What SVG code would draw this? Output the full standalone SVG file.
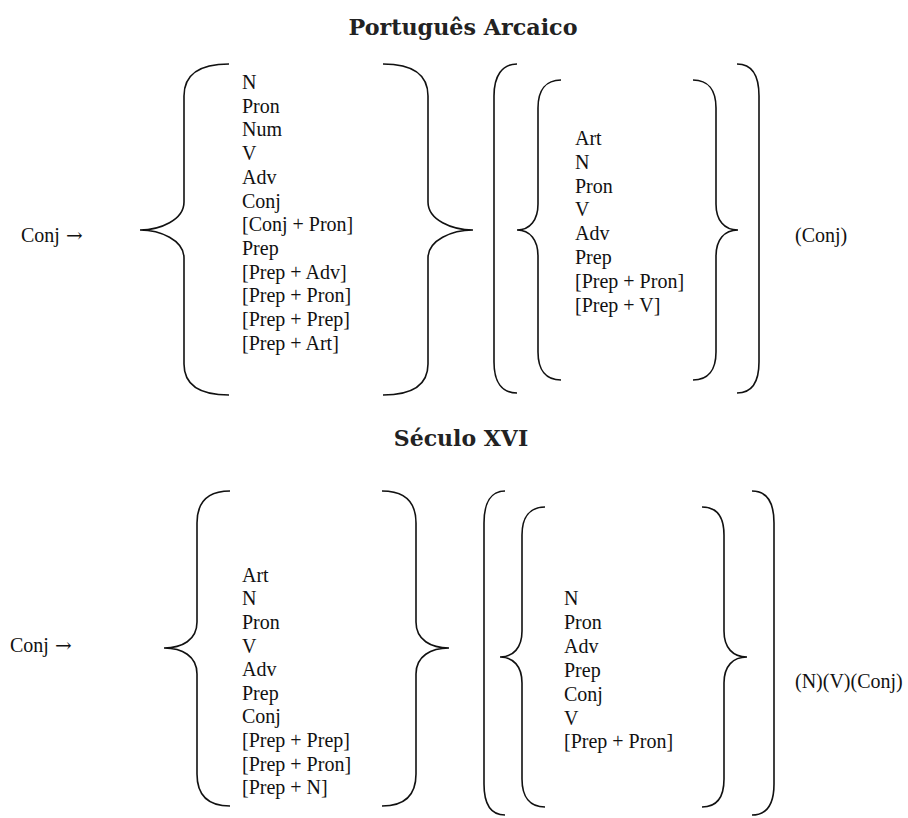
<svg xmlns="http://www.w3.org/2000/svg" width="908" height="818" viewBox="0 0 908 818">
<style>
.t{font-family:"Liberation Serif","Times New Roman",serif;font-size:20px;fill:#111}
.ar{font-family:"DejaVu Serif","Liberation Serif",serif;font-size:20px}
.h{font-family:"DejaVu Serif","Liberation Serif",serif;font-weight:bold;font-size:22px;fill:#222;text-anchor:middle}
.b{fill:none;stroke:#111;stroke-width:1.6}
</style>
<rect width="908" height="818" fill="#fff"/>
<text class="h" x="463" y="35" textLength="229" lengthAdjust="spacingAndGlyphs">Português Arcaico</text>
<text class="h" x="461" y="446">Século XVI</text>

<g id="top-lhs"><text class="t" x="21" y="242">Conj <tspan class="ar" x="66">→</tspan></text></g>

<g id="top-list1">
<text class="t" x="242" y="89">N</text>
<text class="t" x="242" y="112.7">Pron</text>
<text class="t" x="242" y="136.4">Num</text>
<text class="t" x="242" y="160.1">V</text>
<text class="t" x="242" y="183.8">Adv</text>
<text class="t" x="242" y="207.5">Conj</text>
<text class="t" x="242" y="231.2">[Conj + Pron]</text>
<text class="t" x="242" y="254.9">Prep</text>
<text class="t" x="242" y="278.6">[Prep + Adv]</text>
<text class="t" x="242" y="302.3">[Prep + Pron]</text>
<text class="t" x="242" y="326">[Prep + Prep]</text>
<text class="t" x="242" y="349.7">[Prep + Art]</text>
</g>

<g id="top-list2">
<text class="t" x="575" y="145">Art</text>
<text class="t" x="575" y="168.8">N</text>
<text class="t" x="575" y="192.6">Pron</text>
<text class="t" x="575" y="216.4">V</text>
<text class="t" x="575" y="240.2">Adv</text>
<text class="t" x="575" y="264">Prep</text>
<text class="t" x="575" y="287.8">[Prep + Pron]</text>
<text class="t" x="575" y="311.6">[Prep + V]</text>
</g>

<g id="top-rhs"><text class="t" x="795" y="242">(Conj)</text></g>

<g id="bot-lhs"><text class="t" x="10" y="652">Conj <tspan class="ar" x="55">→</tspan></text></g>

<g id="bot-list1">
<text class="t" x="242" y="581.7">Art</text>
<text class="t" x="242" y="605.3">N</text>
<text class="t" x="242" y="628.9">Pron</text>
<text class="t" x="242" y="652.5">V</text>
<text class="t" x="242" y="676.1">Adv</text>
<text class="t" x="242" y="699.7">Prep</text>
<text class="t" x="242" y="723.3">Conj</text>
<text class="t" x="242" y="746.9">[Prep + Prep]</text>
<text class="t" x="242" y="770.5">[Prep + Pron]</text>
<text class="t" x="242" y="794.1">[Prep + N]</text>
</g>

<g id="bot-list2">
<text class="t" x="564" y="605">N</text>
<text class="t" x="564" y="628.9">Pron</text>
<text class="t" x="564" y="652.8">Adv</text>
<text class="t" x="564" y="676.7">Prep</text>
<text class="t" x="564" y="700.6">Conj</text>
<text class="t" x="564" y="724.5">V</text>
<text class="t" x="564" y="748.4">[Prep + Pron]</text>
</g>

<g id="bot-rhs"><text class="t" x="795" y="688">(N)(V)(Conj)</text></g>

<g id="brackets">
<path class="b" d="M229,64 C200,64 184,74 184,96 L184,202 C184,220 160,230 140,230 C160,230 184,240 184,258 L184,364 C184,386 200,395 229,395"/>
<path class="b" d="M383,64 C412,64 428,74 428,96 L428,202 C428,220 452,230 473,230 C452,230 428,240 428,258 L428,364 C428,386 412,395 383,395"/>
<path class="b" d="M517,64 C502,64 494,76 494,96 L494,362 C494,382 502,393 517,393"/>
<path class="b" d="M737,64 C752,64 759,76 759,96 L759,362 C759,382 752,393 737,393"/>
<path class="b" d="M561,80 C546,80 538,90 538,108 L538,204 C538,220 530,230 517,230 C530,230 538,240 538,256 L538,352 C538,370 546,380 561,380"/>
<path class="b" d="M693,80 C708,80 716,90 716,108 L716,204 C716,220 724,230 738,230 C724,230 716,240 716,256 L716,352 C716,370 708,380 693,380"/>

<path class="b" d="M230,491 C208,491 197,501 197,523 L197,622 C197,640 182,648 164,648 C182,648 197,656 197,674 L197,774 C197,796 208,806 230,806"/>
<path class="b" d="M382,491 C404,491 416,501 416,523 L416,622 C416,640 431,648 449,648 C431,648 416,656 416,674 L416,774 C416,796 404,806 382,806"/>
<path class="b" d="M505,491 C491,491 484,503 484,523 L484,784 C484,804 491,815 505,815"/>
<path class="b" d="M752,491 C767,491 774,503 774,523 L774,784 C774,804 767,815 752,815"/>
<path class="b" d="M545,507 C530,507 522,517 522,535 L522,631 C522,648 513,657 500,657 C513,657 522,666 522,683 L522,779 C522,797 530,807 545,807"/>
<path class="b" d="M702,507 C717,507 724,517 724,535 L724,631 C724,648 733,657 747,657 C733,657 724,666 724,683 L724,779 C724,797 717,807 702,807"/>
</g>
</svg>
